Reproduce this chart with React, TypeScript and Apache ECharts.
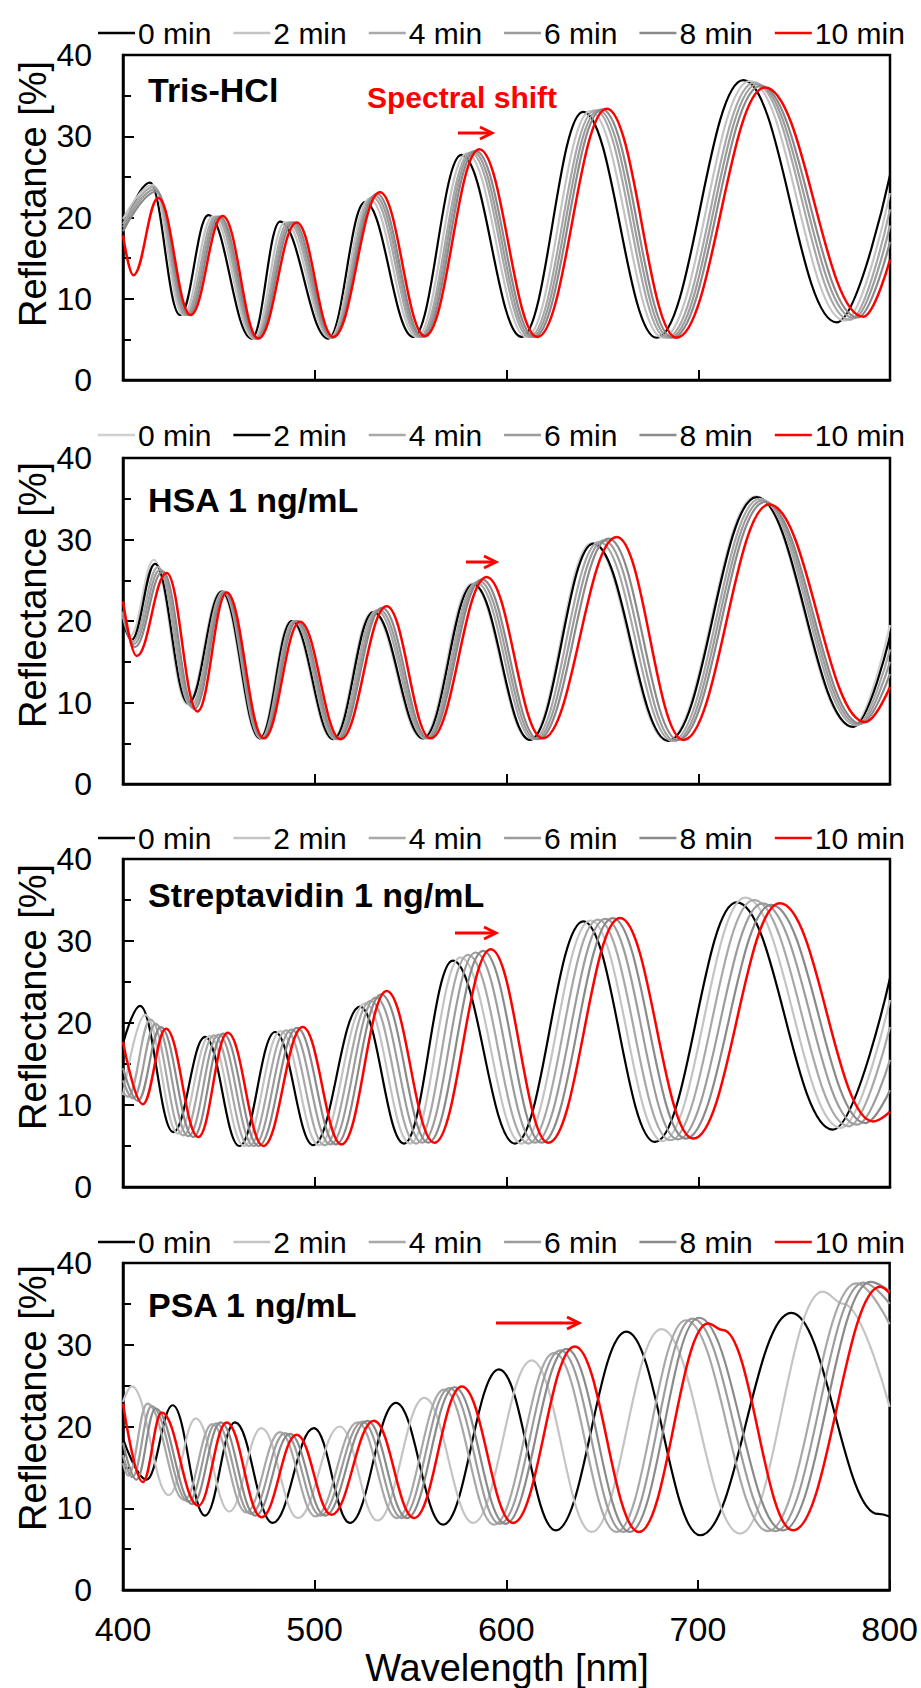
import React, { useEffect, useRef } from "react";
import * as echarts from "echarts";

const FONT = '"Liberation Sans", Arial, Helvetica, sans-serif';

const LABELS = ["0 min", "2 min", "4 min", "6 min", "8 min", "10 min"];
const X_TICKS = [400, 500, 600, 700, 800];
const Y_TICKS = [0, 10, 20, 30, 40];

// Panel 1: Tris-HCl  [wavelength nm, reflectance %] at extrema
const tris0 = [[400,18.5],[414,24.3],[429.7,8.0],[444.5,20.3],[467.1,5.1],[481.9,19.5],[507.1,5.1],[526.2,21.9],[551.4,5.3],[576.5,27.7],[607.9,5.3],[640,33.0],[678.3,5.2],[723.5,36.9],[772.2,7.1],[800,25.2]];
const tris2 = [[400,19.8],[415.3,24.0],[431.4,8.0],[446.8,20.1],[468.2,5.1],[484.5,19.4],[507.9,5.2],[528.5,22.3],[553.2,5.3],[579.3,27.9],[610.4,5.3],[643.7,33.1],[681.4,5.2],[726.9,36.8],[776.4,7.3],[800,23.0]];
const tris4 = [[400,19.2],[416.2,23.8],[432.5,8.0],[448.3,20.1],[468.9,5.1],[486.3,19.4],[508.4,5.2],[530.1,22.5],[554.5,5.3],[581.2,28.0],[612.0,5.3],[646.2,33.2],[683.5,5.2],[729.2,36.6],[779.2,7.4],[800,21.0]];
const tris6 = [[400,18.8],[416.9,23.5],[433.3,8.0],[449.4,20.1],[469.4,5.1],[487.6,19.4],[508.8,5.2],[531.3,22.7],[555.4,5.3],[582.5,28.1],[613.2,5.3],[648.0,33.2],[685.1,5.2],[730.8,36.4],[781.2,7.6],[800,19.0]];
const tris8 = [[400,18.3],[417.5,23.2],[434.2,8.0],[450.5,20.1],[469.9,5.1],[488.9,19.4],[509.2,5.2],[532.4,22.9],[556.3,5.3],[583.9,28.2],[614.5,5.3],[649.8,33.3],[686.6,5.2],[732.5,36.2],[783.3,7.7],[800,17.0]];
const tris10 = [[400,17.8],[405.4,12.9],[418.4,22.4],[435.3,8.0],[452,20.2],[470.6,5.1],[490.6,19.4],[509.7,5.3],[534,23.1],[557.5,5.4],[585.8,28.4],[616.1,5.3],[652.3,33.4],[688.7,5.2],[734.8,36.0],[786.1,7.8],[800,14.8]];

// Panel 2: HSA 1 ng/mL
const hsa0 = [[400,21.0],[404,18.2],[416,27.5],[433.5,9.8],[451,23.6],[471,5.6],[487.5,20.0],[509.2,5.5],[530,21.1],[556,5.6],[582,24.6],[611.8,5.4],[644.5,29.6],[683.8,5.3],[730,35.3],[780.3,7.0],[800,19.5]];
const hsa2 = [[400,20.0],[404.5,17.7],[416.7,27.0],[434.1,9.9],[451.5,23.6],[471.4,5.6],[488,20.0],[509.7,5.5],[530.6,21.1],[556.6,5.6],[582.7,24.5],[612.3,5.4],[645.3,29.5],[684.4,5.3],[730.5,35.2],[780.9,7.0],[800,18.1]];
const hsa4 = [[400,20.5],[405.2,17.5],[418.2,26.6],[435.3,9.6],[452.2,23.6],[471.9,5.6],[489.1,20.0],[510.7,5.5],[532.3,21.3],[557.6,5.6],[584.4,24.7],[614.0,5.5],[648.4,29.7],[686.4,5.3],[732.1,35.0],[782.4,7.2],[800,16.5]];
const hsa6 = [[400,20.8],[405.7,17.2],[419.4,26.3],[436.2,9.4],[452.7,23.6],[472.3,5.6],[489.9,20.0],[511.4,5.5],[533.7,21.4],[558.3,5.6],[585.8,24.9],[615.3,5.5],[650.8,29.9],[687.9,5.3],[733.4,34.8],[783.6,7.3],[800,15.0]];
const hsa8 = [[400,21.2],[406.2,16.8],[420.7,26.1],[437.2,9.2],[453.2,23.5],[472.8,5.6],[490.8,20.0],[512.2,5.5],[535.1,21.6],[559.1,5.6],[587.2,25.1],[616.6,5.5],[653.2,30.1],[689.5,5.4],[734.7,34.6],[784.9,7.4],[800,13.5]];
const hsa10 = [[400,22.4],[407.1,15.7],[422.8,25.9],[438.8,8.9],[454.1,23.5],[473.5,5.6],[492.3,19.9],[513.5,5.5],[537.5,21.8],[560.4,5.6],[589.6,25.4],[618.9,5.6],[657.5,30.3],[692.2,5.4],[737,34.3],[787.0,7.6],[800,11.9]];

// Panel 3: Streptavidin 1 ng/mL
const strep0 = [[400,17.5],[408.9,22.1],[426.2,6.7],[442.8,18.3],[460.7,5.0],[479.3,18.9],[499.2,5.1],[523.6,22.0],[546.5,5.3],[572,27.6],[604.4,5.3],[640.1,32.4],[677.4,5.5],[720,34.7],[770.2,7.0],[800,25.5]];
const strep2 = [[400,11.2],[411.6,21.0],[428.8,6.5],[445.2,18.4],[463.2,5.0],[482.2,19.0],[502.2,5.1],[526.4,22.4],[549.7,5.3],[576.0,28.0],[607.9,5.3],[643.9,32.5],[681.4,5.6],[724.5,35.3],[774.4,7.2],[800,22.8]];
const strep4 = [[400,11.6],[402.6,11.0],[414.3,20.4],[431.4,6.3],[447.5,18.5],[465.7,5.0],[485.1,19.1],[505.1,5.1],[529.2,22.7],[552.9,5.3],[579.9,28.3],[611.4,5.3],[647.7,32.6],[685.4,5.7],[729.0,35.0],[778.6,7.4],[800,19.5]];
const strep6 = [[400,13.0],[405.2,10.8],[417.0,19.9],[434.1,6.2],[449.9,18.6],[468.2,5.0],[487.9,19.2],[508.1,5.2],[531.9,23.1],[556.0,5.4],[583.9,28.6],[614.8,5.4],[651.6,32.7],[689.4,5.8],[733.6,34.6],[782.9,7.6],[800,15.5]];
const strep8 = [[400,14.5],[407.7,10.5],[419.7,19.5],[436.7,6.1],[452.2,18.7],[470.7,5.0],[490.8,19.4],[511.0,5.2],[534.7,23.5],[559.2,5.4],[587.8,28.8],[618.3,5.4],[655.4,32.8],[693.4,5.9],[738.1,34.4],[787.1,7.8],[800,11.8]];
const strep10 = [[400,17.7],[410.3,10.1],[422.4,19.3],[439.3,6.1],[454.6,18.8],[473.2,5.0],[493.7,19.5],[514.0,5.2],[537.5,23.9],[562.4,5.4],[591.8,29.0],[621.8,5.4],[659.2,32.8],[697.4,5.9],[742.6,34.6],[791.3,8.0],[800,9.2]];

// Panel 4: PSA 1 ng/mL
const psa0 = [[400,18.5],[412.3,13.5],[425.9,22.6],[442.8,9.1],[458.4,20.5],[478.1,8.2],[499.6,19.8],[518.4,8.2],[542.4,22.9],[567,8.0],[596.2,27.0],[625.8,7.3],[662.6,31.6],[701.2,6.7],[748.7,33.9],[794,9.3],[800,9.0]];
const psa2 = [[400,23.0],[404.6,24.9],[423.9,11.6],[438.0,21.0],[455.5,9.6],[472.2,19.8],[491.3,8.8],[513.1,20.0],[532.8,8.5],[557.2,23.5],[582.7,8.2],[613.2,28.1],[644.5,7.1],[680.9,31.9],[722.0,6.9],[765,36.5],[776,35.0],[800,22.4]];
const psa4 = [[400,15.5],[402.7,14.0],[412.7,22.8],[432.0,11.0],[446.5,20.3],[464.3,9.5],[481.9,19.3],[500.5,9.0],[522.4,20.5],[542.9,8.8],[567.5,24.5],[593.6,8.0],[625.0,29.0],[657.5,7.1],[693.7,33.0],[736.5,7.2],[782.6,37.5],[800,32.5]];
const psa6 = [[400,16.5],[404.9,13.8],[414.9,22.5],[434.2,10.8],[448.7,20.4],[466.7,9.3],[484.5,19.2],[503.0,9.1],[525.0,20.6],[545.5,8.8],[570.3,24.7],[596.6,8.1],[628.2,29.3],[661.0,7.1],[697.1,33.2],[740.4,7.2],[786.3,37.6],[800,35.0]];
const psa8 = [[400,18.0],[407.0,13.5],[417.0,22.2],[436.3,10.5],[451.0,20.5],[469.1,9.1],[487.1,19.1],[505.4,9.1],[527.5,20.7],[548.2,8.8],[573.0,24.8],[599.5,8.1],[631.4,29.5],[664.4,7.1],[700.5,33.3],[744.3,7.3],[790.0,37.7],[800,36.5]];
const psa10 = [[400,22.8],[410.3,13.2],[420.2,21.7],[439.3,10.3],[454.1,20.5],[472.3,8.9],[490.6,19.0],[508.8,9.2],[530.9,20.7],[551.9,8.8],[576.8,24.9],[603.5,8.2],[635.7,29.8],[669.2,7.1],[705.2,32.6],[713,31.8],[749.6,7.3],[795.1,37.1],[800,36.3]];

const GRAYS_A = ["#000000", "#c4c4c4", "#a8a8a8", "#9c9c9c", "#8a8a8a", "#ff0000"];
const GRAYS_B = ["#d0d0d0", "#000000", "#a8a8a8", "#9c9c9c", "#8a8a8a", "#ff0000"];

const PANELS = [
  { title: "Tris-HCl", top: 55, height: 325, legendTop: 13, titleY: 90, nameY: 194, arrow: [458, 492, 133], colors: GRAYS_A, data: [tris0, tris2, tris4, tris6, tris8, tris10] },
  { title: "HSA 1 ng/mL", top: 458, height: 326, legendTop: 415, titleY: 500, nameY: 595, arrow: [466, 496, 562], colors: GRAYS_B, data: [hsa0, hsa2, hsa4, hsa6, hsa8, hsa10] },
  { title: "Streptavidin 1 ng/mL", top: 859, height: 328, legendTop: 818, titleY: 895, nameY: 997, arrow: [455, 496, 933], colors: GRAYS_A, data: [strep0, strep2, strep4, strep6, strep8, strep10] },
  { title: "PSA 1 ng/mL", top: 1263, height: 327, legendTop: 1222, titleY: 1305, nameY: 1398, arrow: [496, 579, 1323], colors: GRAYS_A, data: [psa0, psa2, psa4, psa6, psa8, psa10] },
];

function buildOption() {
  const grid: any[] = [];
  const xAxis: any[] = [];
  const yAxis: any[] = [];
  const series: any[] = [];
  const legend: any[] = [];
  const graphic: any[] = [];

  PANELS.forEach((p, pi) => {
    grid.push({ left: 123, width: 767, top: p.top, height: p.height, show: true, borderColor: "#000", borderWidth: 2.5, backgroundColor: "transparent" });
    xAxis.push({
      gridIndex: pi, type: "value", min: X_TICKS[0], max: X_TICKS[X_TICKS.length - 1], interval: 100,
      axisLine: { show: true, onZero: false, lineStyle: { color: "#000", width: 2.5 } },
      axisTick: { show: true, inside: true, length: 10, lineStyle: { color: "#000", width: 2 } },
      splitLine: { show: false },
      axisLabel: { show: pi === PANELS.length - 1, fontSize: 34, lineHeight: 34, color: "#000", margin: 22, fontFamily: FONT },
    });
    yAxis.push({
      gridIndex: pi, type: "value", min: Y_TICKS[0], max: Y_TICKS[Y_TICKS.length - 1], interval: 10,
      axisLine: { show: true, onZero: false, lineStyle: { color: "#000", width: 2.5 } },
      axisTick: { show: true, inside: true, length: 11, lineStyle: { color: "#000", width: 2 } },
      minorTick: { show: true, splitNumber: 2, length: 8, lineStyle: { color: "#000", width: 2 } },
      splitLine: { show: false },
      minorSplitLine: { show: false },
      axisLabel: { fontSize: 32, color: "#000", margin: 31, fontFamily: FONT },
    });
    const names: string[] = [];
    const legendData: any[] = [];
    p.data.forEach((d, i) => {
      const name = LABELS[i] + "#" + pi;
      names.push(name);
      legendData.push({ name, icon: "rect", itemStyle: { color: p.colors[i], borderWidth: 0 } });
      series.push({
        type: "line", name, xAxisIndex: pi, yAxisIndex: pi, data: d,
        smooth: 0.4, smoothMonotone: "x", symbol: "none", showSymbol: false,
        lineStyle: { color: p.colors[i], width: i === 5 ? 2.5 : 2.2 },
        itemStyle: { color: p.colors[i] },
        z: 2 + i,
      });
    });
    legend.push({
      left: 93, top: p.legendTop, orient: "horizontal", itemWidth: 37, itemHeight: 2.6, itemGap: 22,
      icon: "rect",
      selectedMode: false, data: legendData,
      formatter: (n: string) => n.split("#")[0],
      textStyle: { fontSize: 30, color: "#000", fontFamily: FONT, padding: [0, 0, 0, -2] },
    });
    graphic.push({
      type: "text", x: 148, y: p.titleY,
      style: { text: p.title, fontSize: 34, fontWeight: "bold", fontFamily: FONT, fill: "#000", textAlign: "left", align: "left", textVerticalAlign: "middle", verticalAlign: "middle" },
    });
    graphic.push({
      type: "text", x: 33, y: p.nameY, rotation: Math.PI / 2,
      style: { text: "Reflectance [%]", fontSize: 38, fontFamily: FONT, fill: "#000", textAlign: "center", align: "center", textVerticalAlign: "middle", verticalAlign: "middle" },
    });
    const [ax1, ax2, ay] = p.arrow;
    graphic.push({
      type: "group",
      children: [
        { type: "line", shape: { x1: ax1, y1: ay, x2: ax2 - 2, y2: ay }, style: { stroke: "#ff0000", lineWidth: 3 } },
        { type: "polyline", shape: { points: [[ax2 - 12, ay - 6], [ax2, ay], [ax2 - 12, ay + 6]] }, style: { stroke: "#ff0000", lineWidth: 3, fill: null } },
      ],
    });
  });

  graphic.push({
    type: "text", x: 367, y: 97,
    style: { text: "Spectral shift", fontSize: 30, fontWeight: "bold", fontFamily: FONT, fill: "#ff0000", textAlign: "left", align: "left", textVerticalAlign: "middle", verticalAlign: "middle" },
  });
  graphic.push({
    type: "text", x: 507, y: 1668,
    style: { text: "Wavelength [nm]", fontSize: 38, lineHeight: 38, fontFamily: FONT, fill: "#000", textAlign: "center", align: "center", textVerticalAlign: "middle", verticalAlign: "middle" },
  });

  return {
    animation: false,
    backgroundColor: "#ffffff",
    textStyle: { fontFamily: FONT },
    grid, xAxis, yAxis, series, legend, graphic,
  };
}

export default function App() {
  const ref = useRef<HTMLDivElement>(null);
  useEffect(() => {
    document.body.style.margin = "0";
    if (!ref.current) return;
    const chart = echarts.init(ref.current, null, { renderer: "svg" });
    chart.setOption(buildOption() as any);
    return () => chart.dispose();
  }, []);
  return <div ref={ref} style={{ position: "absolute", left: 0, top: 0, width: 921, height: 1688 }} />;
}
